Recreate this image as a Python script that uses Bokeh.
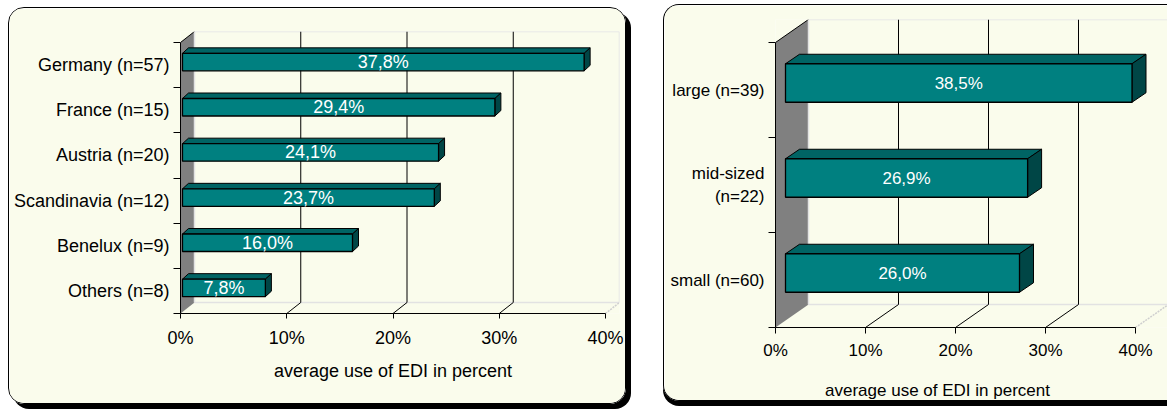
from bokeh.plotting import figure
from bokeh.models import FixedTicker, LinearAxis, Range1d
from bokeh.core.properties import value
from bokeh.embed import file_html
from bokeh.resources import INLINE

# ---------------- data ----------------
country_labels = ["Germany (n=57)", "France (n=15)", "Austria (n=20)",
                  "Scandinavia (n=12)", "Benelux (n=9)", "Others (n=8)"]
country_edi = [37.8, 29.4, 24.1, 23.7, 16.0, 7.8]

size_labels = ["large (n=39)", "mid-sized\n(n=22)", "small (n=60)"]
size_edi = [38.5, 26.9, 26.0]

x_ticks = [0, 10, 20, 30, 40]
x_tick_labels = ["0%", "10%", "20%", "30%", "40%"]
x_title = "average use of EDI in percent"

# ---------------- style ----------------
FONT = "Liberation Sans"
PANEL = "#FAFCEC"
TEAL = "#008080"
TEAL_TOP = "#006464"
TEAL_SIDE = "#004646"
WALL = "#808080"
LIGHT = "#E2E2E2"


def make_panel(labels, values, cfg):
    n = len(labels)
    fs = cfg["fs"]
    xmax = x_ticks[-1]
    fw, fh = cfg["frame_w"], cfg["frame_h"]
    dxp, dyp = cfg["depth_px"]
    sx = (fw - dxp) / xmax          # px per percent
    sy = (fh - dyp) / n             # px per category
    DX, DY = dxp / sx, dyp / sy
    y0, y1 = 0.5, n + 0.5

    p = figure(width=cfg["w"], height=cfg["h"],
               x_range=Range1d(0, xmax + DX), y_range=Range1d(y0, y1 + DY),
               output_backend="svg", toolbar_location=None,
               min_border_left=cfg["ml"], min_border_right=cfg["mr"],
               min_border_top=cfg["mt"], min_border_bottom=cfg["mb"],
               background_fill_color=PANEL, border_fill_color=PANEL,
               outline_line_color=None, styles=cfg["styles"])
    p.xgrid.visible = False
    p.ygrid.visible = False

    # side wall
    p.patch([0, 0, DX, DX], [y0, y1, y1 + DY, y0 + DY],
            fill_color=WALL, line_color=None)
    p.segment(x0=[0], y0=[y1], x1=[DX], y1=[y1 + DY], line_color="black", line_width=1)

    # back plane light edges
    p.segment(x0=[DX, DX, DX, xmax + DX], y0=[y0 + DY, y1 + DY, y0 + DY, y0 + DY],
              x1=[xmax + DX, xmax + DX, DX, xmax + DX], y1=[y0 + DY, y1 + DY, y1 + DY, y1 + DY],
              line_color=LIGHT, line_width=1.5)
    inner = [t for t in x_ticks if 0 < t < xmax]
    # back grid lines
    p.segment(x0=[t + DX for t in inner], y0=[y0 + DY] * len(inner),
              x1=[t + DX for t in inner], y1=[y1 + DY] * len(inner),
              line_color="black", line_width=1)
    # floor lines
    p.segment(x0=inner, y0=[y0] * len(inner),
              x1=[t + DX for t in inner], y1=[y0 + DY] * len(inner),
              line_color="black", line_width=1)
    p.segment(x0=[xmax], y0=[y0], x1=[xmax + DX], y1=[y0 + DY],
              line_color="#CFCFCF", line_width=1.5, line_dash="2 1")

    # bars
    bx = cfg["bar_shift_px"][0] / sx
    by = cfg["bar_shift_px"][1] / sy
    bh = cfg["bar_h_px"] / sy
    bdx = cfg["bar_depth_px"][0] / sx
    bdy = cfg["bar_depth_px"][1] / sy
    ys = [n - i for i in range(n)]
    lefts = [bx] * n
    rights = [v + bx for v in values]
    bots = [y - bh / 2 + by for y in ys]
    tops = [y + bh / 2 + by for y in ys]

    top_xs = [[l, l + bdx, r + bdx, r] for l, r in zip(lefts, rights)]
    top_ys = [[t, t + bdy, t + bdy, t] for t in tops]
    side_xs = [[r, r, r + bdx, r + bdx] for r in rights]
    side_ys = [[b, t, t + bdy, b + bdy] for b, t in zip(bots, tops)]
    p.patches(top_xs, top_ys, fill_color=TEAL_TOP, line_color="black", line_width=1)
    p.patches(side_xs, side_ys, fill_color=TEAL_SIDE, line_color="black", line_width=1)
    p.quad(left=lefts, right=rights, bottom=bots, top=tops,
           fill_color=TEAL, line_color="black", line_width=1.3)

    p.text(x=[(l + r) / 2 for l, r in zip(lefts, rights)],
           y=[y + by for y in ys],
           text=[f"{v:.1f}".replace(".", ",") + "%" for v in values],
           text_font=value(FONT), text_font_size=fs, text_color="white",
           text_align="center", text_baseline="middle")

    # x axis
    xa = p.xaxis[0]
    xa.ticker = FixedTicker(ticks=x_ticks)
    xa.major_label_overrides = dict(zip(x_ticks, x_tick_labels))
    xa.bounds = (0, xmax)
    xa.major_tick_out = cfg["xtick_out"]
    xa.major_tick_in = 0
    xa.minor_tick_line_color = None
    xa.major_label_standoff = cfg["xstandoff"]
    xa.major_label_text_font = FONT
    xa.major_label_text_font_size = fs
    xa.major_label_text_color = "black"
    xa.axis_line_color = "black"

    # x title as a second axis below
    ta = LinearAxis(ticker=FixedTicker(ticks=[cfg["title_x"]]),
                    major_label_overrides={cfg["title_x"]: x_title},
                    axis_line_color=None, major_tick_line_color=None,
                    minor_tick_line_color=None, major_tick_out=0, major_tick_in=0,
                    major_label_standoff=cfg["title_standoff"],
                    major_label_text_font=FONT, major_label_text_font_size=fs,
                    major_label_text_color="black")
    p.add_layout(ta, "below")

    # y axis (labels at centres, ticks at boundaries)
    ya = p.yaxis[0]
    ya.ticker = FixedTicker(ticks=ys, minor_ticks=[k + 0.5 for k in range(n + 1)])
    ya.major_label_overrides = dict(zip(ys, labels))
    ya.bounds = (y0, y1)
    ya.major_tick_line_color = None
    ya.major_tick_out = 0
    ya.major_tick_in = 0
    ya.minor_tick_out = 7
    ya.minor_tick_in = 0
    ya.minor_tick_line_color = "black"
    ya.major_label_standoff = cfg["ystandoff"]
    ya.major_label_text_font = FONT
    ya.major_label_text_font_size = fs
    ya.major_label_text_color = "black"
    ya.axis_line_color = "black"
    return p


left_cfg = dict(w=618, h=397, ml=171, mr=8, mt=23, mb=92, fs="18px",
                frame_w=439, frame_h=282, depth_px=(14, 11),
                bar_shift_px=(2, 3), bar_h_px=17.5, bar_depth_px=(6, 5.5),
                xtick_out=5, xstandoff=9, title_x=20, title_standoff=10, ystandoff=4,
                styles={"position": "absolute", "left": "8px", "top": "7px",
                        "border": "1px solid black", "border-radius": "16px",
                        "overflow": "hidden", "box-shadow": "5px 5px 0 0 black"})
right_cfg = dict(w=504, h=397, ml=111, mr=0, mt=14, mb=75, fs="17px",
                 frame_w=393, frame_h=308, depth_px=(33, 23),
                 bar_shift_px=(10, 7), bar_h_px=38.5, bar_depth_px=(14, 9.5),
                 xtick_out=6, xstandoff=7, title_x=18, title_standoff=18, ystandoff=4,
                 styles={"position": "absolute", "left": "663px", "top": "4px",
                         "border": "1px solid black", "border-right": "none",
                         "border-radius": "16px 0 0 16px",
                         "overflow": "hidden", "box-shadow": "0px 5px 0 0 black"})

p_left = make_panel(country_labels, country_edi, left_cfg)
p_right = make_panel(size_labels, size_edi, right_cfg)

open("out.html", "w").write(file_html([p_left, p_right], INLINE))
